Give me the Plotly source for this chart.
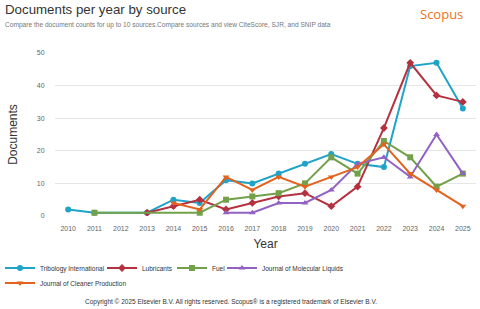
import plotly.graph_objects as go

tribology_years = [2010, 2011, 2013, 2014, 2015, 2016, 2017, 2018, 2019, 2020, 2021, 2022, 2023, 2024, 2025]
tribology_docs = [2, 1, 1, 5, 4, 11, 10, 13, 16, 19, 16, 15, 46, 47, 33]

lubricants_years = [2013, 2014, 2015, 2016, 2017, 2018, 2019, 2020, 2021, 2022, 2023, 2024, 2025]
lubricants_docs = [1, 3, 5, 2, 4, 6, 7, 3, 9, 27, 47, 37, 35]

fuel_years = [2011, 2015, 2016, 2017, 2018, 2019, 2020, 2021, 2022, 2023, 2024, 2025]
fuel_docs = [1, 1, 5, 6, 7, 10, 18, 13, 23, 18, 9, 13]

jml_years = [2016, 2017, 2018, 2019, 2020, 2021, 2022, 2023, 2024, 2025]
jml_docs = [1, 1, 4, 4, 8, 16, 18, 12, 25, 13]

jcp_years = [2014, 2015, 2016, 2017, 2018, 2019, 2020, 2021, 2022, 2023, 2024, 2025]
jcp_docs = [4, 2, 12, 8, 12, 9, 12, 15, 22, 13, 8, 3]

x_ticks = list(range(2010, 2026))
y_ticks = [0, 10, 20, 30, 40, 50]

series = [
    ("Tribology International", tribology_years, tribology_docs, "#1fa3c9", "circle"),
    ("Lubricants", lubricants_years, lubricants_docs, "#b4313f", "diamond"),
    ("Fuel", fuel_years, fuel_docs, "#72a14a", "square"),
    ("Journal of Molecular Liquids", jml_years, jml_docs, "#9162c2", "triangle-up"),
    ("Journal of Cleaner Production", jcp_years, jcp_docs, "#e3621d", "triangle-down"),
]
legend_ids = ["legend", "legend2", "legend3", "legend4", "legend5"]

FONT = "Liberation Sans, Arial, sans-serif"
W, H = 480, 309
l, r, t, b = 55, 4, 53, 93

# legend placement in pixels (left x, row center y)
legend_px = [(0, 268), (102, 268), (172, 268), (222, 268), (0, 283)]

fig = go.Figure()
for (name, xs, ys, color, sym), lid in zip(series, legend_ids):
    fig.add_trace(go.Scatter(
        x=xs, y=ys, name=name, mode="lines+markers", legend=lid,
        line=dict(color=color, width=2),
        marker=dict(color=color, symbol=sym, size=6),
    ))

legends = {}
for lid, (lx, ly) in zip(legend_ids, legend_px):
    legends[lid] = dict(x=lx / W, y=(H - ly) / H, xref="container", yref="container",
                        xanchor="left", yanchor="middle", orientation="h",
                        font=dict(size=6.5, color="#333333", family=FONT),
                        bgcolor="rgba(0,0,0,0)", itemwidth=30)

fig.update_layout(
    width=W, height=H,
    margin=dict(l=l, r=r, t=t, b=b, autoexpand=False),
    paper_bgcolor="white", plot_bgcolor="white",
    font=dict(family=FONT, size=7, color="#666666"),
    showlegend=True,
    xaxis=dict(range=[2009.5, 2025.5], tickvals=x_ticks, showgrid=False,
               zeroline=False, showline=False, ticks="outside", ticklen=6,
               tickcolor="rgba(0,0,0,0)",
               tickfont=dict(size=7, color="#666666"),
               title=dict(text="Year", font=dict(size=12, color="#333333"), standoff=8)),
    yaxis=dict(range=[0, 50], tickvals=y_ticks, showgrid=True, gridcolor="#e6e6e6",
               zeroline=False, showline=False, ticks="outside", ticklen=8,
               tickcolor="rgba(0,0,0,0)",
               tickfont=dict(size=7, color="#666666"),
               title=dict(text="Documents", font=dict(size=12, color="#333333"), standoff=16)),
    **legends,
)

def px_ann(text, x, y, size, color, family=FONT, xanchor="left"):
    fig.add_annotation(text=text, x=(x - l) / (W - l - r), y=(H - b - y) / (H - t - b),
                       xref="paper", yref="paper", showarrow=False,
                       xanchor=xanchor, yanchor="middle",
                       font=dict(size=size, color=color, family=family))

px_ann("Documents per year by source", 3, 10, 13.3, "#333333")
px_ann("Compare the document counts for up to 10 sources.Compare sources and view CiteScore, SJR, and SNIP data",
       3, 25, 6.6, "#777777")
px_ann("Scopus", 441, 14, 13, "#e8731c", family="Open Sans, sans-serif", xanchor="center")
px_ann("Copyright © 2025 Elsevier B.V. All rights reserved. Scopus® is a registered trademark of Elsevier B.V.",
       231, 302, 6.5, "#333333", xanchor="center")

fig.write_html("out.html",
               config={"displayModeBar": False},
               post_script="document.body.style.margin='0';document.body.style.padding='0';")
